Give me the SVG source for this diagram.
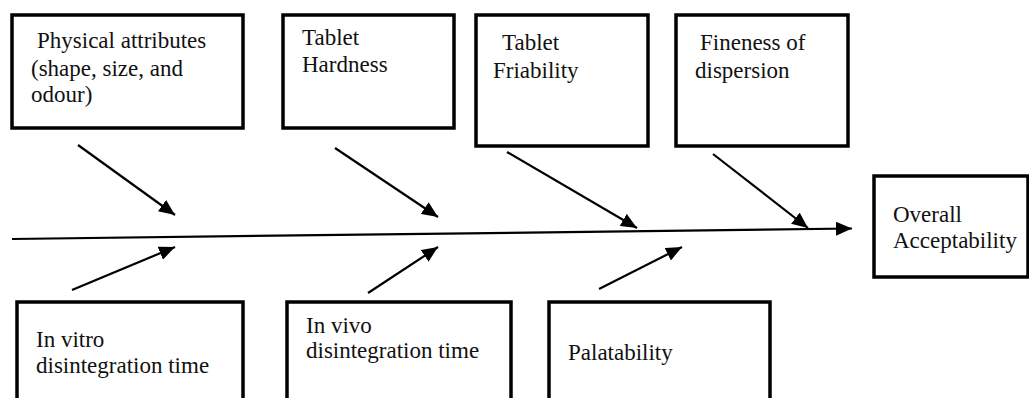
<svg xmlns="http://www.w3.org/2000/svg" width="1029" height="398" viewBox="0 0 1029 398">
<style>
.box{fill:#fff;stroke:#000;stroke-width:3.5}
.lbl{font-family:"Liberation Serif","Times New Roman",serif;font-size:23px;fill:#111}
.con{stroke:#000;stroke-width:2.2;fill:none}
</style>
<defs>
<marker id="ah" markerUnits="userSpaceOnUse" markerWidth="18" markerHeight="14" refX="16" refY="7" orient="auto">
<path d="M0,0 L16,7 L0,14 Z" fill="#000"/>
</marker>
</defs>
<rect width="1029" height="398" fill="#fff"/>
<g id="connectors">
<line class="con" x1="12" y1="239" x2="852" y2="228.5" marker-end="url(#ah)"/>
<line class="con" x1="78" y1="145" x2="175" y2="215" marker-end="url(#ah)"/>
<line class="con" x1="335" y1="148" x2="438" y2="217" marker-end="url(#ah)"/>
<line class="con" x1="507" y1="152" x2="637" y2="228" marker-end="url(#ah)"/>
<line class="con" x1="713" y1="154" x2="808" y2="228" marker-end="url(#ah)"/>
<line class="con" x1="72" y1="290" x2="175" y2="247" marker-end="url(#ah)"/>
<line class="con" x1="368" y1="293" x2="438" y2="247" marker-end="url(#ah)"/>
<line class="con" x1="599" y1="289" x2="682" y2="247" marker-end="url(#ah)"/>
</g>
<g id="physical">
<rect class="box" x="12" y="15" width="231" height="113"/>
<text class="lbl" x="37" y="48">Physical attributes</text>
<text class="lbl" x="31" y="76">(shape, size, and</text>
<text class="lbl" x="31" y="102">odour)</text>
</g>
<g id="hardness">
<rect class="box" x="283" y="15" width="171" height="113"/>
<text class="lbl" x="302" y="45">Tablet</text>
<text class="lbl" x="302" y="72">Hardness</text>
</g>
<g id="friability">
<rect class="box" x="476" y="15" width="172" height="131"/>
<text class="lbl" x="502" y="50">Tablet</text>
<text class="lbl" x="493" y="78">Friability</text>
</g>
<g id="fineness">
<rect class="box" x="676" y="15" width="172" height="131"/>
<text class="lbl" x="700" y="50">Fineness of</text>
<text class="lbl" x="695" y="78">dispersion</text>
</g>
<g id="overall">
<rect class="box" x="874" y="176" width="154" height="101"/>
<text class="lbl" x="893" y="222">Overall</text>
<text class="lbl" x="893" y="248">Acceptability</text>
</g>
<g id="invitro">
<rect class="box" x="17" y="302" width="226" height="110"/>
<text class="lbl" x="36" y="347">In vitro</text>
<text class="lbl" x="36" y="373">disintegration time</text>
</g>
<g id="invivo">
<rect class="box" x="287" y="302" width="224" height="110"/>
<text class="lbl" x="306" y="333">In vivo</text>
<text class="lbl" x="306" y="358">disintegration time</text>
</g>
<g id="palatability">
<rect class="box" x="549" y="302" width="221" height="110"/>
<text class="lbl" x="568" y="360">Palatability</text>
</g>
</svg>
